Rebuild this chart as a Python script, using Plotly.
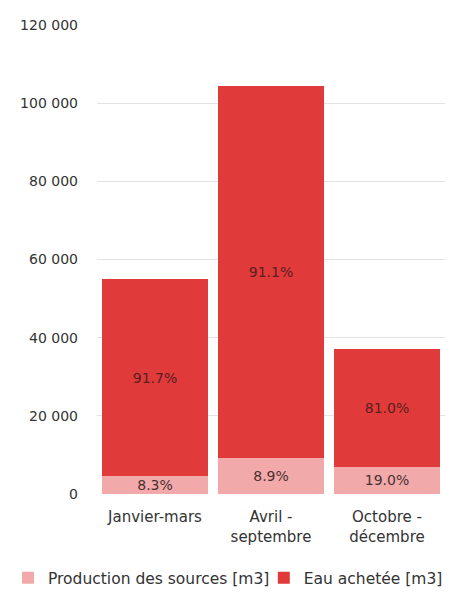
import plotly.graph_objects as go

categories = ["Janvier-mars", "Avril -<br>septembre", "Octobre -<br>décembre"]
production = [4560, 9300, 7030]
achetee = [50440, 95200, 29970]
production_pct = ["8.3%", "8.9%", "19.0%"]
achetee_pct = ["91.7%", "91.1%", "81.0%"]
tick_vals = [0, 20000, 40000, 60000, 80000, 100000, 120000]
tick_text = ["0", "20 000", "40 000", "60 000", "80 000", "100 000", "120 000"]

font_family = "DejaVu Sans"

fig = go.Figure()
fig.add_trace(go.Bar(
    x=categories, y=production, name="Production des sources [m3]",
    marker=dict(color="#F2A9A9", line=dict(width=0)),
    text=production_pct, textposition="inside", insidetextanchor="middle",
    textfont=dict(size=14, color="#4a3030", family=font_family),
    constraintext="none", legend="legend",
))
fig.add_trace(go.Bar(
    x=categories, y=achetee, name="Eau achetée [m3]",
    marker=dict(color="#E03A3A", line=dict(width=0)),
    text=achetee_pct, textposition="inside", insidetextanchor="middle",
    textfont=dict(size=14, color="#5a2020", family=font_family),
    constraintext="none", legend="legend2",
))

legend_common = dict(orientation="h", xref="container", yref="container",
                     y=0.032, yanchor="middle", xanchor="left",
                     font=dict(size=15.5, color="#333333"),
                     itemwidth=30, bgcolor="rgba(0,0,0,0)")

fig.update_layout(
    barmode="stack",
    bargap=0.09,
    width=448, height=589,
    margin=dict(l=89, r=11, t=17, b=103, autoexpand=False),
    paper_bgcolor="white", plot_bgcolor="white",
    font=dict(family=font_family, size=14, color="#333333"),
    showlegend=True,
    legend=dict(x=0.0, **legend_common),
    legend2=dict(x=0.571, **legend_common),
    uniformtext=dict(mode=False),
)
fig.update_yaxes(range=[0, 120000], tickvals=tick_vals, ticktext=tick_text,
                 showgrid=True, gridcolor="#e3e3e3", gridwidth=1,
                 zeroline=False, showline=False, ticks="", ticklabelstandoff=18,
                 automargin=False, tickfont=dict(size=14, color="#333333"))
fig.update_xaxes(showline=False, ticks="", automargin=False, ticklabelstandoff=12,
                 tickfont=dict(size=15, color="#333333"))

fig.write_html("out.html")
